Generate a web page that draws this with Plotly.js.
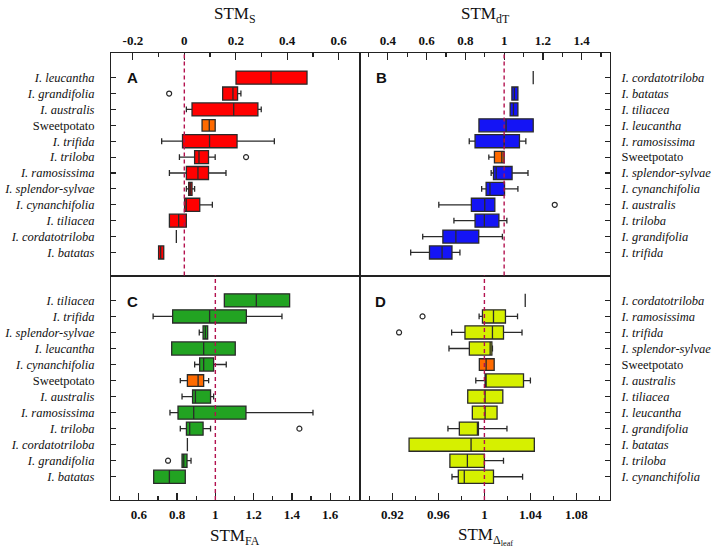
<!DOCTYPE html>
<html>
<head>
<meta charset="utf-8">
<script src="https://cdn.plot.ly/plotly-3.0.1.min.js"></script>
<style>html,body{margin:0;padding:0;background:#fff;}#chart{width:723px;height:547px;}</style>
</head>
<body>
<div id="chart"></div>
<script>
// ---------- Panel A : STM_S ----------
const catsA = ['I. leucantha','I. grandifolia','I. australis','Sweetpotato','I. trifida','I. triloba','I. ramosissima','I. splendor-sylvae','I. cynanchifolia','I. tiliacea','I. cordatotriloba','I. batatas'];
const q1A  = [0.201,0.149,0.030,0.069,-0.007,0.040,0.008,0.017,0.001,-0.058,-0.031,-0.100];
const medA = [0.337,0.189,0.192,0.097,0.098,0.057,0.053,0.023,0.008,-0.022,-0.031,-0.092];
const q3A  = [0.477,0.207,0.286,0.120,0.205,0.094,0.094,0.030,0.060,0.008,-0.031,-0.080];
const loA  = [0.201,0.149,0.008,0.069,-0.088,-0.019,-0.058,0.008,0.001,-0.058,-0.031,-0.100];
const hiA  = [0.477,0.220,0.299,0.120,0.350,0.120,0.162,0.040,0.109,0.008,-0.031,-0.080];
const outCatsA = ['I. grandifolia','I. triloba'];
const outValsA = [-0.059,0.240];

// ---------- Panel B : STM_dT ----------
const catsB = ['I. cordatotriloba','I. batatas','I. tiliacea','I. leucantha','I. ramosissima','Sweetpotato','I. splendor-sylvae','I. cynanchifolia','I. australis','I. triloba','I. grandifolia','I. trifida'];
const q1B  = [1.150,1.040,1.031,0.870,0.850,0.950,0.945,0.907,0.831,0.850,0.684,0.615];
const medB = [1.150,1.053,1.048,1.010,1.000,0.988,0.959,0.927,0.900,0.898,0.751,0.680];
const q3B  = [1.150,1.071,1.071,1.150,1.079,1.000,1.041,1.002,0.952,0.973,0.869,0.731];
const loB  = [1.150,1.040,1.031,0.870,0.820,0.921,0.933,0.884,0.663,0.741,0.580,0.518];
const hiB  = [1.150,1.071,1.071,1.150,1.112,1.000,1.123,1.071,0.952,1.014,0.991,0.772];
const outCatsB = ['I. australis'];
const outValsB = [1.261];

// ---------- Panel C : STM_FA ----------
const catsC = ['I. tiliacea','I. trifida','I. splendor-sylvae','I. leucantha','I. cynanchifolia','Sweetpotato','I. australis','I. ramosissima','I. triloba','I. cordatotriloba','I. grandifolia','I. batatas'];
const q1C  = [1.047,0.777,0.936,0.772,0.918,0.854,0.881,0.805,0.849,0.854,0.826,0.678];
const medC = [1.214,0.970,0.948,0.939,0.939,0.910,0.896,0.887,0.866,0.854,0.835,0.760];
const q3C  = [1.388,1.162,0.960,1.104,0.991,0.939,0.975,1.160,0.936,0.854,0.852,0.843];
const loC  = [1.047,0.675,0.916,0.772,0.892,0.817,0.826,0.763,0.817,0.854,0.826,0.678];
const hiC  = [1.388,1.348,0.960,1.104,1.057,0.965,0.991,1.510,0.975,0.854,0.873,0.843];
const outCatsC = ['I. triloba','I. grandifolia'];
const outValsC = [1.439,0.753];

// ---------- Panel D : STM_Δleaf ----------
const catsD = ['I. cordatotriloba','I. ramosissima','I. trifida','I. splendor-sylvae','Sweetpotato','I. australis','I. tiliacea','I. leucantha','I. grandifolia','I. batatas','I. triloba','I. cynanchifolia'];
const q1D  = [1.0355,0.9983,0.9831,0.9869,0.9956,1.0006,0.9855,0.9895,0.9782,0.9345,0.9700,0.9773];
const medD = [1.0355,1.0079,1.0070,1.0050,1.0015,1.0015,1.0006,1.0006,0.9942,0.9884,0.9852,0.9825];
const q3D  = [1.0355,1.0183,1.0166,1.0065,1.0085,1.0340,1.0160,1.0110,0.9948,1.0434,1.0000,1.0079];
const loD  = [1.0355,0.9954,0.9715,0.9692,0.9956,0.9925,0.9855,0.9895,0.9683,0.9345,0.9700,0.9718];
const hiD  = [1.0355,1.0288,1.0327,1.0070,1.0085,1.0400,1.0160,1.0110,1.0196,1.0434,1.0166,1.0332];
const outCatsD = ['I. ramosissima','I. trifida'];
const outValsD = [0.9462,0.9258];

// tick labels
const tickValsA = [-0.2,0,0.2,0.4,0.6];
const tickTextA = ['-0.2','0','0.2','0.4','0.6'];
const refLines = [0,1,1,1];

const colors = ['#ff0000','#1414f5','#22a322','#d6f000'];
const svColor = '#ff6a00';
const lineCol = '#2a2a2a';

const panels = [
  {cats:catsA,q1:q1A,med:medA,q3:q3A,lo:loA,hi:hiA,oc:outCatsA,ov:outValsA,xa:'x',ya:'y'},
  {cats:catsB,q1:q1B,med:medB,q3:q3B,lo:loB,hi:hiB,oc:outCatsB,ov:outValsB,xa:'x2',ya:'y2'},
  {cats:catsC,q1:q1C,med:medC,q3:q3C,lo:loC,hi:hiC,oc:outCatsC,ov:outValsC,xa:'x3',ya:'y3'},
  {cats:catsD,q1:q1D,med:medD,q3:q3D,lo:loD,hi:hiD,oc:outCatsD,ov:outValsD,xa:'x4',ya:'y4'}
];

const traces = [];
panels.forEach((p,pi)=>{
  const sp = p.cats.map((c,i)=>c==='Sweetpotato'?i:-1).filter(i=>i>=0);
  const ot = p.cats.map((c,i)=>c!=='Sweetpotato'?i:-1).filter(i=>i>=0);
  [[ot,colors[pi],0.82],[sp,svColor,0.72]].forEach(([idx,col,w])=>{
    traces.push({
      type:'box', orientation:'h', xaxis:p.xa, yaxis:p.ya,
      y: idx.map(i=>p.cats[i]),
      q1: idx.map(i=>p.q1[i]), median: idx.map(i=>p.med[i]), q3: idx.map(i=>p.q3[i]),
      lowerfence: idx.map(i=>p.lo[i]), upperfence: idx.map(i=>p.hi[i]),
      fillcolor: col, line:{color:lineCol,width:1.3}, width:w, whiskerwidth:0.45,
      boxpoints:false, showlegend:false, hoverinfo:'skip'
    });
  });
  traces.push({
    type:'scatter', mode:'markers', xaxis:p.xa, yaxis:p.ya,
    x:p.ov, y:p.oc,
    marker:{symbol:'circle-open', size:5, color:lineCol, line:{width:1.2,color:lineCol}},
    showlegend:false, hoverinfo:'skip'
  });
});

const fmt = c => c==='Sweetpotato' ? c : '<i>'+c+'</i>';
const serif = 'Liberation Serif, Times New Roman, serif';
const tickFontNum = {family:serif, size:13, color:'#111', weight:'bold'};
const catFont = {family:serif, size:12.5, color:'#111'};
const XS = 0.498, YS = 0.5022;

function xax(domain, anchor, side, range, extra){
  return Object.assign({domain, anchor, side, range, showgrid:false, zeroline:false,
    showline:true, mirror:true, linecolor:'#222', linewidth:1,
    ticks:'inside', ticklen:7, tickwidth:1.2, tickcolor:'#222', tickfont:tickFontNum, ticklabelstandoff:2}, extra);
}
function yax(domain, anchor, side, cats){
  return {domain, anchor, side, type:'category', categoryorder:'array', categoryarray:cats,
    range:[12.45,-1.55], tickmode:'array', tickvals:cats, ticktext:cats.map(fmt),
    showgrid:false, zeroline:false, showline:true, mirror:true, linecolor:'#222', linewidth:1,
    ticks:'inside', ticklen:5, tickwidth:1.1, tickcolor:'#222', tickfont:catFont,
    ticklabelstandoff: side==='left'?13:8};
}

const layout = {
  width:723, height:547, paper_bgcolor:'#fff', plot_bgcolor:'#fff',
  margin:{l:111, r:113, t:53, b:47}, boxmode:'overlay', showlegend:false,
  xaxis: xax([0,XS],'y','top',[-0.285,0.681],{tickmode:'array',tickvals:tickValsA,ticktext:tickTextA,
          minor:{tickvals:[-0.1,0.1,0.3,0.5],ticks:'inside',ticklen:4,tickcolor:'#222'}}),
  xaxis2: xax([XS,1],'y2','top',[0.254,1.546],{tick0:0,dtick:0.2,minor:{dtick:0.1,ticks:'inside',ticklen:4,tickcolor:'#222'}}),
  xaxis3: xax([0,XS],'y3','bottom',[0.455,1.753],{tick0:0,dtick:0.2,minor:{dtick:0.1,ticks:'inside',ticklen:4,tickcolor:'#222'}}),
  xaxis4: xax([XS,1],'y4','bottom',[0.8914,1.1092],{tick0:0,dtick:0.04,minor:{dtick:0.02,ticks:'inside',ticklen:4,tickcolor:'#222'}}),
  yaxis: yax([YS,1],'x','left',catsA),
  yaxis2: yax([YS,1],'x2','right',catsB),
  yaxis3: yax([0,YS],'x3','left',catsC),
  yaxis4: yax([0,YS],'x4','right',catsD),
  shapes: ['x','x2','x3','x4'].map((xa,i)=>({type:'line', xref:xa, yref:(i===0?'y':'y'+(i+1))+' domain',
     x0:refLines[i], x1:refLines[i], y0:0, y1:1, line:{color:'#b3124f', width:1.4, dash:'4px,3px'}, layer:'above'})),
  annotations: [
    {text:'A', x:0.044, y:0.946},{text:'B', x:0.543, y:0.946},
    {text:'C', x:0.044, y:0.445},{text:'D', x:0.541, y:0.445}
  ].map(a=>Object.assign({xref:'paper',yref:'paper',showarrow:false,xanchor:'center',yanchor:'middle',
      font:{family:'Liberation Sans, Arial, sans-serif',size:15,color:'#111',weight:'bold'}},a,{text:'<b>'+a.text+'</b>'}))
  .concat([
    {text:'STM<sub>S</sub>', x:0.2485, y:1.085},
    {text:'STM<sub>dT</sub>', x:0.7495, y:1.085},
    {text:'STM<sub>FA</sub>', x:0.2485, y:-0.082},
    {text:'STM<sub>Δ<sub>leaf</sub></sub>', x:0.7495, y:-0.082}
  ].map(a=>Object.assign({xref:'paper',yref:'paper',showarrow:false,xanchor:'center',yanchor:'middle',
      font:{family:serif,size:17,color:'#111'}},a)))
};

Plotly.newPlot('chart', traces, layout, {staticPlot:true});
</script>
</body>
</html>
